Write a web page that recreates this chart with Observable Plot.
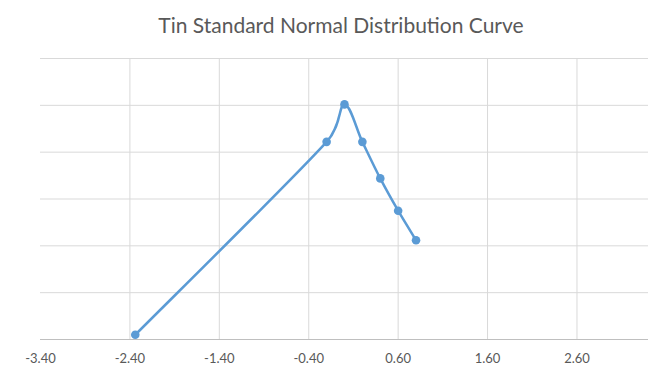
<!DOCTYPE html>
<html><head><meta charset="utf-8">
<script src="https://cdn.jsdelivr.net/npm/d3@7"></script>
<script src="https://cdn.jsdelivr.net/npm/@observablehq/plot@0.6"></script>
<style>
body{margin:0;background:#fff;}
#wrap{width:670px;height:371px;position:relative;overflow:hidden;}
#title{height:45px;line-height:50px;text-align:center;font-family:Lato,"Open Sans",sans-serif;font-size:21px;color:#595959;padding-left:12px;box-sizing:border-box;}
</style></head>
<body><div id="wrap"><div id="title">Tin Standard Normal Distribution Curve</div></div>
<script>
const xValues = [-2.34, -0.20, 0.00, 0.20, 0.40, 0.60, 0.80];
const yValues = [0.010, 0.422, 0.502, 0.422, 0.344, 0.275, 0.212];
const xTicks = [-3.4, -2.4, -1.4, -0.4, 0.6, 1.6, 2.6];
const yGrid = [0.1, 0.2, 0.3, 0.4, 0.5, 0.6];

const data = xValues.map((x, i) => ({x, y: yValues[i]}));
const blue = "#5b9bd5";

// Spreadsheet-style smoothed line: cubic Bézier with neighbour-based tangents
function smoothCurve(context) {
  let pts = [];
  return {
    areaStart() {}, areaEnd() {},
    lineStart() { pts = []; },
    point(x, y) { pts.push([+x, +y]); },
    lineEnd() {
      const n = pts.length;
      if (!n) return;
      context.moveTo(pts[0][0], pts[0][1]);
      const tan = pts.map((p, i) => {
        const a = pts[Math.max(0, i - 1)], b = pts[Math.min(n - 1, i + 1)];
        return [(b[0] - a[0]) / 6, (b[1] - a[1]) / 6];
      });
      for (let i = 0; i < n - 1; i++) {
        const p = pts[i], q = pts[i + 1];
        const L = Math.hypot(q[0] - p[0], q[1] - p[1]);
        const clamp = t => {
          const m = Math.hypot(t[0], t[1]);
          const lim = 0.55 * L;
          return m > lim ? [t[0] * lim / m, t[1] * lim / m] : t;
        };
        const t0 = clamp(tan[i]), t1 = clamp(tan[i + 1]);
        context.bezierCurveTo(p[0] + t0[0], p[1] + t0[1], q[0] - t1[0], q[1] - t1[1], q[0], q[1]);
      }
    }
  };
}

const chart = Plot.plot({
  width: 670,
  height: 326,
  marginTop: 13,
  marginBottom: 32,
  marginLeft: 40,
  marginRight: 22,
  style: {fontFamily: "Lato, 'Open Sans', sans-serif", fontSize: "13px", color: "#595959", background: "#fff"},
  x: {domain: [-3.4, 3.4], label: null},
  y: {domain: [0, 0.6], axis: null},
  marks: [
    Plot.ruleX(xTicks.slice(1), {stroke: "#d9d9d9", strokeWidth: 1}),
    Plot.ruleY(yGrid, {stroke: "#d9d9d9", strokeWidth: 1}),
    Plot.ruleY([0], {stroke: "#bfbfbf", strokeWidth: 1}),
    Plot.axisX({ticks: xTicks, tickFormat: d => d.toFixed(2), tickSize: 0, tickPadding: 14, label: null, fill: "#595959"}),
    Plot.line(data, {x: "x", y: "y", stroke: blue, strokeWidth: 2.5, curve: smoothCurve}),
    Plot.dot(data, {x: "x", y: "y", fill: blue, r: 4.3})
  ]
});
document.getElementById("wrap").appendChild(chart);
</script></body></html>
